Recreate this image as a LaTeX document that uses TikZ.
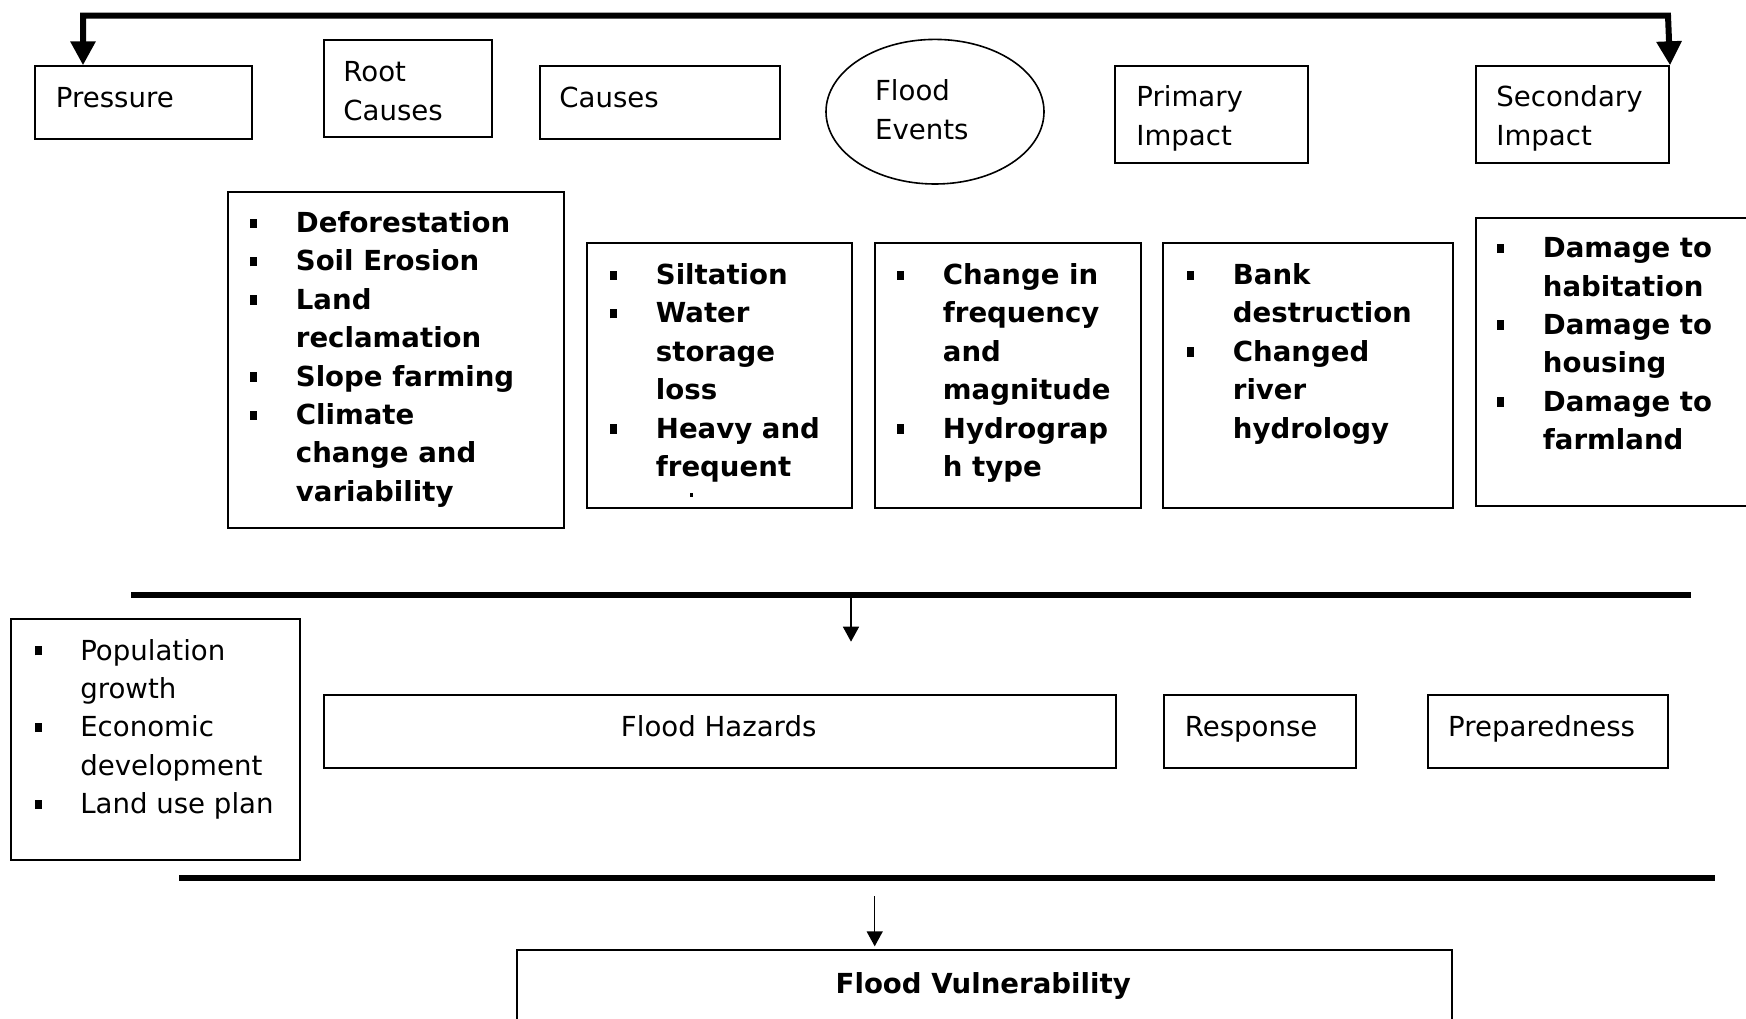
\documentclass[tikz,border=0pt]{standalone}
\usepackage{fontspec}
\setmainfont{DejaVu Sans}
\usetikzlibrary{arrows.meta,shapes.geometric}
\newcommand{\bul}{\rule[2.3pt]{3.35pt}{4.7pt}}
\newcommand{\fsz}{\fontsize{13.8pt}{19.2pt}\selectfont}
\begin{document}
\begin{tikzpicture}[x=0.5pt,y=-0.5pt,
  box/.style={draw, line width=1pt, rectangle, inner sep=0pt, anchor=north west},
  txt/.style={inner sep=0pt, anchor=base west, font=\fsz},
  btxt/.style={inner sep=0pt, anchor=base west, font=\fsz\bfseries},
  bar/.style={line width=3pt},
  bigarrows/.style={line width=3pt, {Triangle[width=12pt,length=12pt]}-{Triangle[width=12pt,length=12pt]}},
  thinarrow/.style={line width=0.75pt, -{Triangle[width=8pt,length=7.5pt]}}]
\useasboundingbox (0,0) rectangle (1746,1018);
\clip (0,0) rectangle (1746,1018);

% top row boxes
\node[box, minimum width=108.5pt, minimum height=36.2pt] (pressure) at (34.4,65.3) {};
\node[box, minimum width=84.4pt, minimum height=48.35pt] (root) at (322.6,39.3) {};
\node[box, minimum width=120.25pt, minimum height=36.2pt] (causes) at (538.5,65.3) {};
\node[draw, line width=0.8pt, ellipse, inner sep=0pt, minimum width=109pt, minimum height=72.3pt] (events) at (935,111.7) {};
\node[box, minimum width=96.3pt, minimum height=48.5pt] (primary) at (1114.4,65.3) {};
\node[box, minimum width=96.5pt, minimum height=48.5pt] (secondary) at (1475,65.3) {};

\node[txt] (pressure-t) at (55.5,107) {Pressure};
\node[txt] (root-t) at (343,81.7) {\begin{tabular}[t]{@{}l@{}}Root\\Causes\end{tabular}};
\node[txt] (causes-t) at (559,107) {Causes};
\node[txt] (events-t) at (874.7,100.7) {\begin{tabular}[t]{@{}l@{}}Flood\\Events\end{tabular}};
\node[txt] (primary-t) at (1136,106.7) {\begin{tabular}[t]{@{}l@{}}Primary\\Impact\end{tabular}};
\node[txt] (secondary-t) at (1496,106.7) {\begin{tabular}[t]{@{}l@{}}Secondary\\Impact\end{tabular}};

% top connector
\coordinate (tl) at (83,15.5);
\coordinate (tr) at (1668,15.5);
\draw[bigarrows] ([shift={(48.6,0)}]pressure.north west) -- (tl) -- (tr) -- (secondary.north east);

% list boxes
\node[box, minimum width=168.2pt, minimum height=168.3pt] (list1) at (227,190.7) {};
\node[box, minimum width=132.65pt, minimum height=132.8pt] (list2) at (586,241.7) {};
\node[box, minimum width=132.85pt, minimum height=132.8pt] (list3) at (874,241.7) {};
\node[box, minimum width=144.6pt, minimum height=132.8pt] (list4) at (1162.3,241.7) {};
\node[box, minimum width=150pt, minimum height=144.15pt] (list5) at (1474.7,216.7) {};

\node[btxt] (list1-t) at (250,232.5) {\begin{tabular}[t]{@{}l@{\hspace{19.4pt}}l@{}}
\bul & Deforestation\\ \bul & Soil Erosion\\ \bul & Land\\ & reclamation\\
\bul & Slope farming\\ \bul & Climate\\ & change and\\ & variability\end{tabular}};
\node[btxt] (list2-t) at (610,284.5) {\begin{tabular}[t]{@{}l@{\hspace{19.4pt}}l@{}}
\bul & Siltation\\ \bul & Water\\ & storage\\ & loss\\ \bul & Heavy and\\ & frequent\end{tabular}};
\fill (690,493) rectangle (693,497);
\node[btxt] (list3-t) at (897,284.5) {\begin{tabular}[t]{@{}l@{\hspace{19.4pt}}l@{}}
\bul & Change in\\ & frequency\\ & and\\ & magnitude\\ \bul & Hydrograp\\ & h type\end{tabular}};
\node[btxt] (list4-t) at (1187,284.5) {\begin{tabular}[t]{@{}l@{\hspace{19.4pt}}l@{}}
\bul & Bank\\ & destruction\\ \bul & Changed\\ & river\\ & hydrology\end{tabular}};
\node[btxt] (list5-t) at (1497,257.6) {\begin{tabular}[t]{@{}l@{\hspace{19.4pt}}l@{}}
\bul & Damage to\\ & habitation\\ \bul & Damage to\\ & housing\\ \bul & Damage to\\ & farmland\end{tabular}};

% middle bar and arrow
\coordinate (bar2w) at (131,595);
\coordinate (bar2e) at (1690.6,595);
\draw[bar] (bar2w) -- (bar2e);
\coordinate (a1s) at (851,596);
\coordinate (a1e) at (851,641.7);
\draw[thinarrow] (a1s) -- (a1e);

% lower row
\node[box, minimum width=144.35pt, minimum height=120.35pt] (pop) at (10.3,618.3) {};
\node[txt] (pop-t) at (34.4,660) {\begin{tabular}[t]{@{}l@{\hspace{19.4pt}}l@{}}
\bul & Population\\ & growth\\ \bul & Economic\\ & development\\ \bul & Land use plan\end{tabular}};
\node[box, minimum width=396.1pt, minimum height=36.2pt] (hazards) at (322.6,694.3) {};
\node[txt, anchor=base] (hazards-t) at (718.7,736.7) {Flood Hazards};
\node[box, minimum width=96.1pt, minimum height=36.2pt] (response) at (1162.8,694.3) {};
\node[txt] (response-t) at (1184.4,736.7) {Response};
\node[box, minimum width=120.1pt, minimum height=36.2pt] (prep) at (1426.7,694.3) {};
\node[txt] (prep-t) at (1447.8,736.7) {Preparedness};

% bottom bar and arrow
\coordinate (bar3w) at (179,877.5);
\coordinate (bar3e) at (1715,877.5);
\draw[bar] (bar3w) -- (bar3e);
\node[box, minimum width=467.35pt, minimum height=50pt] (vuln) at (515.9,949.3) {};
\node[btxt, anchor=base] (vuln-t) at (983.2,993) {Flood Vulnerability};
\coordinate (a2s) at (874.7,896);
\draw[thinarrow] (a2s) -- ([shift={(358.8,-3)}]vuln.north west);
\end{tikzpicture}
\end{document}
